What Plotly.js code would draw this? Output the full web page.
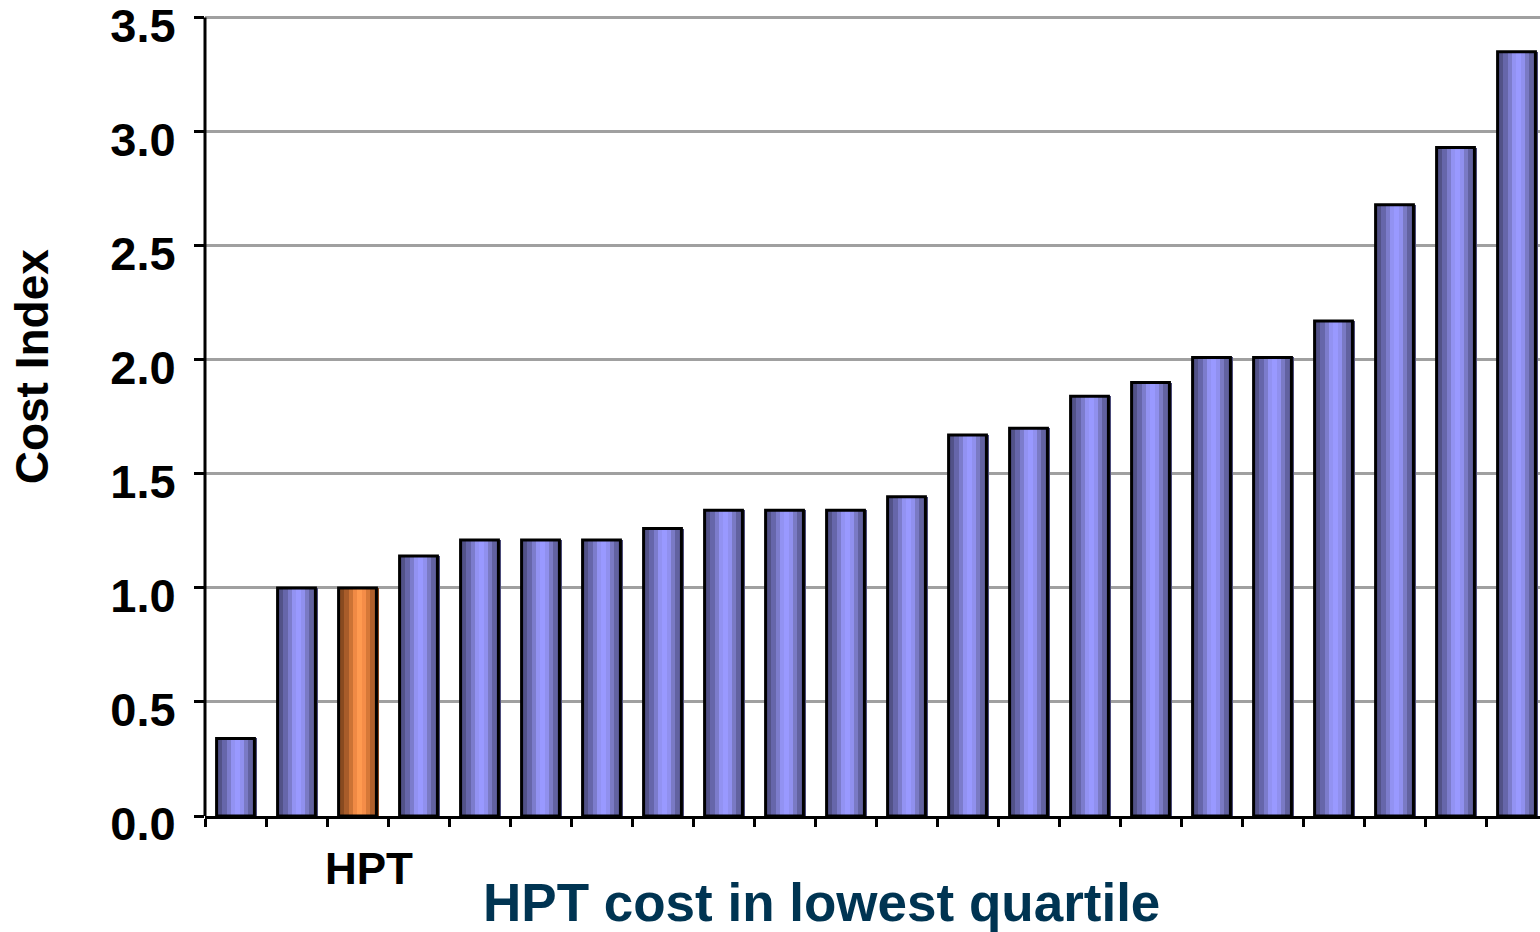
<!DOCTYPE html>
<html>
<head>
<meta charset="utf-8">
<script src="https://cdn.plot.ly/plotly-3.0.1.min.js"></script>
<style>html,body{margin:0;padding:0;background:#fff;}#chart{width:1540px;height:932px;}</style>
</head>
<body>
<div id="chart"></div>
<script>
// ---- data ----
const labels = ["", "", "HPT", "", "", "", "", "", "", "", "", "", "", "", "", "", "", "", "", "", "", ""];
const values = [0.34, 1.00, 1.00, 1.14, 1.21, 1.21, 1.21, 1.26, 1.34, 1.34, 1.34, 1.40, 1.67, 1.70, 1.84, 1.90, 2.01, 2.01, 2.17, 2.68, 2.93, 3.35];
const yTickVals = [0, 0.5, 1, 1.5, 2, 2.5, 3, 3.5];
const yTickText = ["0.0", "0.5", "1.0", "1.5", "2.0", "2.5", "3.0", "3.5"];
const yTitle = "Cost Index";
const xTitle = "HPT cost in lowest quartile";
const highlight = "HPT";

// ---- styling ----
const FONT = "Liberation Sans, Arial, sans-serif";
const xs = values.map((v, i) => i);
const hi = labels.indexOf(highlight);
const yMax = yTickVals[yTickVals.length - 1];
const blueShades = ['#525288','#6666aa','#7c7ccc','#9292f2','#9999ff','#9090ee','#7a7ac4','#6262a0','#4c4c7a'];
const orangeShades = ['#884a20','#a85c2a','#cc7335','#f08a45','#ff9a50','#f58d48','#d67838','#b0602c','#84461e'];
const barW = 0.62;
const fillStart = -0.29, fillW = 0.645;
const sw = fillW / blueShades.length;

const traces = [];
blueShades.forEach((c, k) => {
  traces.push({
    type: 'bar', x: xs, y: values,
    width: sw + 0.004, offset: fillStart + k * sw,
    marker: {color: values.map((v, i) => i === hi ? orangeShades[k] : c), line: {width: 0}},
    hoverinfo: 'skip', showlegend: false
  });
});
traces.push({
  type: 'bar', x: xs, y: values,
  width: barW, offset: -barW / 2,
  marker: {color: 'rgba(0,0,0,0)', line: {color: '#000', width: 3}},
  showlegend: false
});

const annotations = [];
labels.forEach((t, i) => {
  if (t) annotations.push({
    xref: 'x', yref: 'paper', x: i, y: -0.066, xshift: 11,
    text: t, showarrow: false, xanchor: 'center', yanchor: 'middle',
    font: {family: FONT, size: 44, color: '#000', weight: 700}
  });
});
annotations.push({
  xref: 'paper', yref: 'paper', x: 0.462, y: -0.108,
  text: xTitle, showarrow: false, xanchor: 'center', yanchor: 'middle',
  font: {family: FONT, size: 53, color: '#003452', weight: 700}
});
annotations.push({
  xref: 'paper', yref: 'paper', x: 0, y: 0.56, xshift: -173,
  text: yTitle, showarrow: false, textangle: -90, xanchor: 'center', yanchor: 'middle',
  font: {family: FONT, size: 46, color: '#000', weight: 700}
});

const layout = {
  width: 1540, height: 932,
  margin: {l: 205, r: 0, t: 13, b: 116},
  paper_bgcolor: '#fff', plot_bgcolor: '#fff',
  barmode: 'overlay', bargap: 0,
  showlegend: false,
  xaxis: {
    range: [-0.5, 21.385], tickmode: 'linear', tick0: -0.5, dtick: 1,
    ticks: 'outside', ticklen: 8, tickwidth: 3, tickcolor: '#000',
    showticklabels: false, showgrid: false, zeroline: false,
    showline: true, linecolor: '#000', linewidth: 3
  },
  yaxis: {
    range: [0, 3.52], tickmode: 'array', tickvals: yTickVals, ticktext: yTickText,
    ticks: 'outside', ticklen: 10, tickwidth: 3, tickcolor: '#000',
    ticklabelstandoff: 9, ticklabelshift: 8, ticklabeloverflow: 'allow',
    tickfont: {family: FONT, size: 47, color: '#000', weight: 700},
    showgrid: true, gridcolor: '#a0a0a0', gridwidth: 3,
    zeroline: false, showline: false
  },
  shapes: [
    {type: 'line', xref: 'paper', yref: 'y', x0: 0, x1: 1, y0: yMax, y1: yMax, layer: 'below',
     line: {color: '#a0a0a0', width: 3}},
    {type: 'line', xref: 'paper', yref: 'y', x0: 0, x1: 0, y0: 0, y1: yMax,
     line: {color: '#000', width: 3}}
  ],
  annotations: annotations
};

Plotly.newPlot('chart', traces, layout, {displayModeBar: false, staticPlot: true});
</script>
</body>
</html>
